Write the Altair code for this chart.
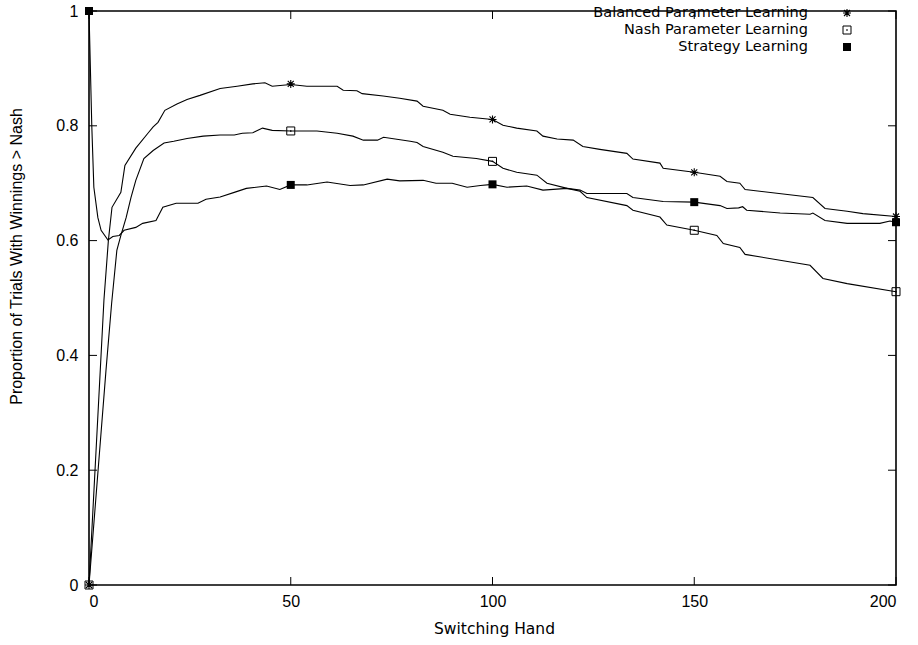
import altair as alt
import pandas as pd

# ---------------- data ----------------
bal_x = [0, 3.7, 4.8, 5.7, 7.9, 8.9, 11.6, 14.6, 15.9, 17.1, 18.8, 21.8, 24.3, 27.5, 32.5,
         36.7, 40.6, 43.6, 45.4, 50, 54, 61.5, 63, 66.4, 67.7, 72.9, 77, 81.3, 82.8, 87.7,
         89.5, 94.4, 100, 102.6, 106, 111, 112.5, 116, 120, 122.4, 126.6, 133.3, 134.8,
         141.5, 142.3, 150, 156.4, 158.1, 161.3, 162.6, 179.4, 182.4, 187.9, 191.8, 200]
bal_y = [0, 0.496, 0.600, 0.658, 0.684, 0.731, 0.761, 0.787, 0.798, 0.806, 0.827, 0.838,
         0.846, 0.853, 0.865, 0.869, 0.873, 0.875, 0.869, 0.872, 0.869, 0.869, 0.862, 0.861,
         0.856, 0.852, 0.848, 0.843, 0.834, 0.827, 0.820, 0.815, 0.811, 0.801, 0.796, 0.791,
         0.782, 0.777, 0.775, 0.764, 0.759, 0.752, 0.742, 0.735, 0.726, 0.719, 0.712, 0.703,
         0.700, 0.689, 0.675, 0.656, 0.651, 0.647, 0.642]

nash_x = [0, 4.2, 5.6, 6.9, 7.9, 9.2, 10.4, 11.6, 13.6, 15.9, 18.6, 21, 24.3, 28.3, 32.5,
          36, 38, 40.6, 43, 45.4, 50, 56.5, 61.5, 65.4, 68, 71.5, 73, 79.6, 81.3, 82.8, 87.7,
          90.2, 96, 100, 102.6, 106, 111, 113.5, 118.5, 121.7, 123.4, 133.3, 134.8, 141.5,
          143.2, 150, 155.6, 157.2, 161.3, 162.6, 178.7, 181.9, 187.9, 200]
nash_y = [0, 0.373, 0.490, 0.583, 0.609, 0.640, 0.675, 0.705, 0.743, 0.757, 0.770, 0.773,
          0.778, 0.782, 0.784, 0.784, 0.787, 0.788, 0.796, 0.792, 0.791, 0.791, 0.787, 0.782,
          0.775, 0.775, 0.780, 0.773, 0.771, 0.764, 0.754, 0.747, 0.743, 0.738, 0.726, 0.719,
          0.714, 0.700, 0.691, 0.686, 0.675, 0.661, 0.653, 0.641, 0.627, 0.618, 0.609, 0.595,
          0.588, 0.576, 0.557, 0.534, 0.525, 0.511]

strat_x = [0, 0.7, 1.2, 2.2, 3, 4.7, 5.9, 7.5, 8.7, 11.6, 13.3, 16.6, 18.3, 21.6, 27, 29,
           32.5, 36, 39, 44, 47.3, 50, 54, 59, 64.7, 68, 73.9, 77, 82.8, 86, 90, 93.7, 97,
           100, 103.6, 108.5, 112.5, 118.5, 121.7, 123.4, 133.3, 134.8, 142.3, 150, 156.4,
           158.1, 161, 162, 163, 171.3, 178.7, 179.4, 182.4, 187.9, 196, 198.5, 200]
strat_y = [1, 0.798, 0.693, 0.640, 0.618, 0.601, 0.607, 0.609, 0.618, 0.623, 0.630, 0.635,
           0.658, 0.665, 0.665, 0.672, 0.676, 0.684, 0.691, 0.695, 0.689, 0.697, 0.697, 0.702,
           0.696, 0.697, 0.707, 0.704, 0.705, 0.700, 0.700, 0.693, 0.696, 0.698, 0.693, 0.695,
           0.688, 0.691, 0.688, 0.682, 0.682, 0.675, 0.668, 0.667, 0.661, 0.656, 0.657, 0.659,
           0.653, 0.648, 0.646, 0.648, 0.635, 0.630, 0.630, 0.634, 0.632]

mark_x = [0, 50, 100, 150, 200]
bal_marks = [0, 0.873, 0.811, 0.719, 0.642]
nash_marks = [0, 0.791, 0.738, 0.618, 0.511]
strat_marks = [1, 0.697, 0.698, 0.667, 0.632]

series_names = ["Balanced Parameter Learning", "Nash Parameter Learning", "Strategy Learning"]
x_ticks = [0, 50, 100, 150, 200]
y_ticks = [0, 0.2, 0.4, 0.6, 0.8, 1.0]

# ---------------- tables ----------------
lines_df = pd.concat([
    pd.DataFrame({"series": series_names[0], "x": bal_x, "y": bal_y}),
    pd.DataFrame({"series": series_names[1], "x": nash_x, "y": nash_y}),
    pd.DataFrame({"series": series_names[2], "x": strat_x, "y": strat_y}),
])
bal_pts = pd.DataFrame({"x": mark_x, "y": bal_marks})
nash_pts = pd.DataFrame({"x": mark_x, "y": nash_marks})
strat_pts = pd.DataFrame({"x": mark_x, "y": strat_marks})

W, H = 807, 574
FONT = "Liberation Sans"
WIDE = "DejaVu Sans"
FS = 16
STAR = "M-1,0L1,0M0,-1L0,1M-0.75,-0.75L0.75,0.75M-0.75,0.75L0.75,-0.75"

xs = alt.Scale(domain=[0, 200], nice=False, zero=False)
ys = alt.Scale(domain=[0, 1], nice=False, zero=False)

x_enc = alt.X("x:Q", scale=xs, axis=alt.Axis(
    values=x_ticks, format="d", title="Switching Hand", tickSize=0, labelPadding=8,
    domain=False, grid=False, labelFont=FONT, labelFontSize=FS, labelColor="black",
    titleFont=WIDE, titleFontSize=15.5, titleFontWeight="normal", titleColor="black",
    titleY=43, titleBaseline="middle", titleX=405))
y_enc = alt.Y("y:Q", scale=ys, axis=alt.Axis(
    values=y_ticks, format="~g", title="Proportion of Trials With Winnings > Nash",
    tickSize=0, labelPadding=11, domain=False, grid=False, labelFont=FONT,
    labelFontSize=FS, labelColor="black", titleFont=FONT, titleFontSize=FS,
    titleFontWeight="normal", titleColor="black", titleX=-73, titleY=245,
    titleBaseline="middle", titleAngle=270))

lines = alt.Chart(lines_df).mark_line(color="black", strokeWidth=1.1).encode(
    x=x_enc, y=y_enc, detail="series:N")

p_bal = alt.Chart(bal_pts).mark_point(shape=STAR, size=64, color="black", strokeWidth=1.1,
                                      filled=False, opacity=1).encode(
    x=alt.X("x:Q", scale=xs), y=alt.Y("y:Q", scale=ys))
p_nash = alt.Chart(nash_pts).mark_point(shape="square", size=64, color="black",
                                        strokeWidth=1, filled=False, opacity=1).encode(
    x=alt.X("x:Q", scale=xs), y=alt.Y("y:Q", scale=ys))
p_nash_dot = alt.Chart(nash_pts).mark_point(shape="square", size=2, color="black",
                                            filled=True, opacity=1).encode(
    x=alt.X("x:Q", scale=xs), y=alt.Y("y:Q", scale=ys))
p_strat = alt.Chart(strat_pts).mark_point(shape="square", size=64, color="black",
                                          filled=True, opacity=1).encode(
    x=alt.X("x:Q", scale=xs), y=alt.Y("y:Q", scale=ys))

# inward ticks on all four sides (positions from the scales)
xt = pd.DataFrame({"x": x_ticks})
yt = pd.DataFrame({"y": y_ticks})
tick_style = dict(color="black", strokeWidth=1)
tb = alt.Chart(xt).mark_rule(**tick_style).encode(
    x=alt.X("x:Q", scale=xs), y=alt.value(H), y2=alt.value(H - 8))
tt = alt.Chart(xt).mark_rule(**tick_style).encode(
    x=alt.X("x:Q", scale=xs), y=alt.value(0), y2=alt.value(8))
tl = alt.Chart(yt).mark_rule(**tick_style).encode(
    y=alt.Y("y:Q", scale=ys), x=alt.value(0), x2=alt.value(8))
tr = alt.Chart(yt).mark_rule(**tick_style).encode(
    y=alt.Y("y:Q", scale=ys), x=alt.value(W), x2=alt.value(W - 8))

# legend (text right-aligned, symbol at the right, like gnuplot)
leg_y = [2, 19, 36]
legend_text = []
for i, name in enumerate(series_names):
    legend_text.append(
        alt.Chart(pd.DataFrame({"name": [name]})).mark_text(
            align="right", baseline="middle", font=WIDE, fontSize=14.5, color="black").encode(
            text="name:N", x=alt.value(719), y=alt.value(leg_y[i])))
leg_bal = alt.Chart(pd.DataFrame({"name": [series_names[0]]})).mark_point(
    shape=STAR, size=64, color="black", strokeWidth=1.1, opacity=1).encode(
    x=alt.value(758), y=alt.value(leg_y[0]))
leg_nash = alt.Chart(pd.DataFrame({"name": [series_names[1]]})).mark_point(
    shape="square", size=64, color="black", strokeWidth=1, opacity=1).encode(
    x=alt.value(758), y=alt.value(leg_y[1]))
leg_nash_dot = alt.Chart(pd.DataFrame({"name": [series_names[1]]})).mark_point(
    shape="square", size=2, color="black", filled=True, opacity=1).encode(
    x=alt.value(758), y=alt.value(leg_y[1]))
leg_strat = alt.Chart(pd.DataFrame({"name": [series_names[2]]})).mark_point(
    shape="square", size=64, color="black", filled=True, opacity=1).encode(
    x=alt.value(758), y=alt.value(leg_y[2]))

chart = alt.layer(
    lines, tb, tt, tl, tr, p_bal, p_nash, p_nash_dot, p_strat,
    *legend_text, leg_bal, leg_nash, leg_nash_dot, leg_strat
).properties(
    width=W, height=H,
    autosize=alt.AutoSizeParams(type="none"),
    padding={"left": 89, "top": 11, "right": 22, "bottom": 60},
    background="white",
).configure_view(stroke="black", strokeWidth=1.6)

chart.save("out.html", embed_options={"renderer": "svg", "actions": False})
